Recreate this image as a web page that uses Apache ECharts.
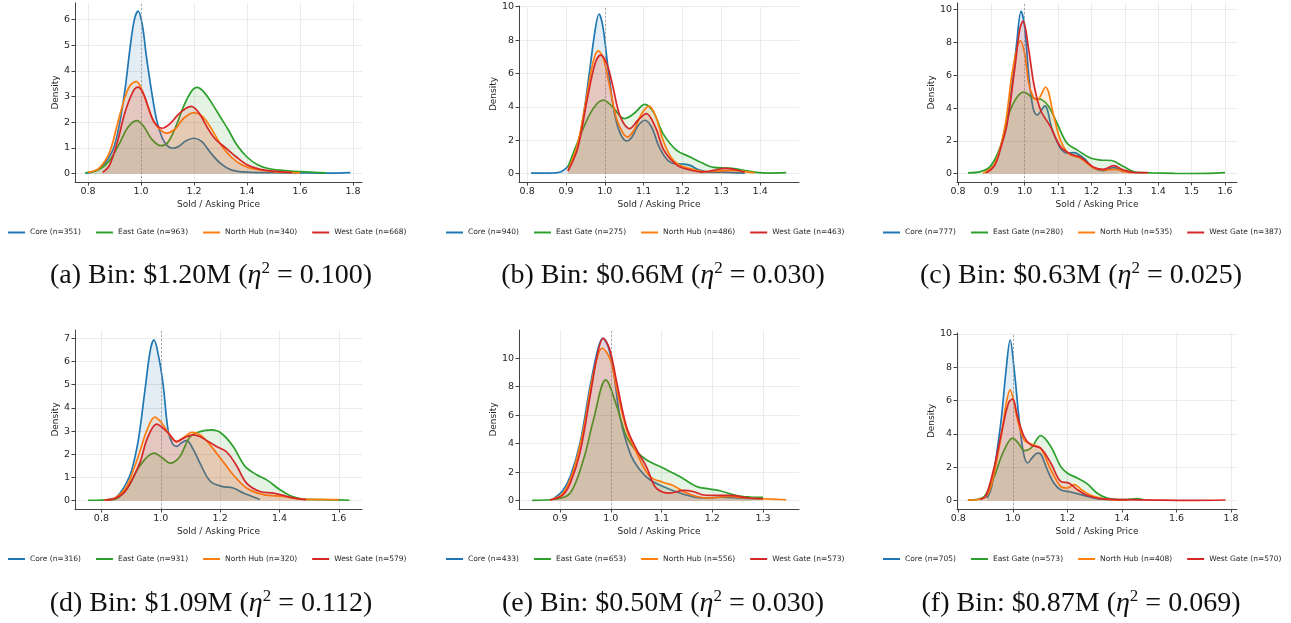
<!DOCTYPE html>
<html>
<head>
<meta charset="utf-8">
<script src="https://cdn.jsdelivr.net/npm/echarts@6/dist/echarts.min.js"></script>
<style>
  html, body { margin: 0; padding: 0; background: #fff; }
  #chart { width: 1291px; height: 623px; }
</style>
</head>
<body>
<div id="chart"></div>
<script>
// region names, colours and sample counts
var regions = ["Core", "East Gate", "North Hub", "West Gate"];
var colors = ["#1f77b4", "#2ca02c", "#ff7f0e", "#d62728"];
var counts = [
    [351, 963, 340, 668],
    [940, 275, 486, 463],
    [777, 280, 535, 387],
    [316, 931, 320, 579],
    [433, 653, 556, 573],
    [705, 573, 408, 570]
];
var letters = ["(a)", "(b)", "(c)", "(d)", "(e)", "(f)"];
var bins = ["$1.20M", "$0.66M", "$0.63M", "$1.09M", "$0.50M", "$0.87M"];
var etas = ["0.100", "0.030", "0.025", "0.112", "0.030", "0.069"];

// tick labels
var xTicks = [
    [0.8, 1.0, 1.2, 1.4, 1.6, 1.8],
    [0.8, 0.9, 1.0, 1.1, 1.2, 1.3, 1.4],
    [0.8, 0.9, 1.0, 1.1, 1.2, 1.3, 1.4, 1.5, 1.6],
    [0.8, 1.0, 1.2, 1.4, 1.6],
    [0.9, 1.0, 1.1, 1.2, 1.3],
    [0.8, 1.0, 1.2, 1.4, 1.6, 1.8]
];
var yTicks = [
    [0, 1, 2, 3, 4, 5, 6],
    [0, 2, 4, 6, 8, 10],
    [0, 2, 4, 6, 8, 10],
    [0, 1, 2, 3, 4, 5, 6, 7],
    [0, 2, 4, 6, 8, 10],
    [0, 2, 4, 6, 8, 10]
];
var xRange = [[0.751, 1.834], [0.779, 1.5], [0.797, 1.636], [0.711, 1.678], [0.819, 1.371], [0.795, 1.822]];
var yRange = [[-0.324, 6.65], [-0.497, 10.04], [-0.51, 10.41], [-0.357, 7.36], [-0.58, 11.98], [-0.5, 10.06]];

// density curves [ratio, density]
// (a)
var coreA = [[0.79,0.02],[0.82,0.08],[0.85,0.25],[0.88,0.65],[0.9,1.1],[0.92,2.0],[0.94,3.3],[0.96,5.0],[0.975,6.0],[0.989,6.33],[1.005,5.8],[1.02,4.6],[1.04,3.2],[1.06,2.05],[1.08,1.4],[1.1,1.08],[1.12,0.99],[1.14,1.05],[1.17,1.28],[1.2,1.38],[1.23,1.25],[1.26,0.85],[1.3,0.4],[1.34,0.15],[1.4,0.06],[1.5,0.04],[1.6,0.03],[1.7,0.02],[1.79,0.04]];
var eastA = [[0.79,0.03],[0.84,0.15],[0.88,0.5],[0.92,1.2],[0.95,1.8],[0.983,2.07],[1.01,1.85],[1.04,1.35],[1.075,1.09],[1.1,1.2],[1.13,1.8],[1.16,2.6],[1.19,3.2],[1.212,3.36],[1.24,3.15],[1.27,2.7],[1.3,2.2],[1.33,1.7],[1.36,1.15],[1.4,0.65],[1.44,0.35],[1.48,0.2],[1.52,0.14],[1.6,0.08],[1.7,0.03]];
var northA = [[0.8,0.05],[0.84,0.2],[0.88,0.8],[0.91,1.9],[0.94,3.0],[0.96,3.45],[0.983,3.59],[1.0,3.35],[1.02,2.8],[1.05,2.0],[1.08,1.65],[1.096,1.58],[1.13,1.75],[1.16,2.15],[1.2,2.38],[1.23,2.25],[1.26,1.85],[1.3,1.15],[1.34,0.65],[1.38,0.35],[1.42,0.2],[1.5,0.08],[1.6,0.03]];
var westA = [[0.855,0.05],[0.88,0.3],[0.91,1.2],[0.94,2.4],[0.97,3.2],[0.989,3.37],[1.01,3.1],[1.03,2.5],[1.05,2.0],[1.08,1.77],[1.11,1.95],[1.14,2.3],[1.17,2.55],[1.19,2.62],[1.22,2.35],[1.25,1.8],[1.28,1.35],[1.32,1.0],[1.36,0.65],[1.4,0.35],[1.45,0.17],[1.5,0.1],[1.57,0.04]];
// (b)
var coreB = [[0.81,0.03],[0.86,0.04],[0.89,0.15],[0.92,1.0],[0.94,2.8],[0.96,6.0],[0.975,8.6],[0.985,9.56],[0.995,8.8],[1.01,6.0],[1.025,3.6],[1.04,2.4],[1.056,1.96],[1.07,2.2],[1.085,2.85],[1.103,3.2],[1.12,2.8],[1.14,1.6],[1.16,0.85],[1.18,0.6],[1.2,0.58],[1.22,0.5],[1.24,0.25],[1.27,0.1],[1.3,0.1],[1.33,0.06],[1.36,0.03]];
var eastB = [[0.905,0.4],[0.93,1.9],[0.96,3.5],[0.98,4.2],[0.996,4.4],[1.02,4.0],[1.05,3.3],[1.075,3.6],[1.103,4.15],[1.125,3.7],[1.15,2.4],[1.185,1.4],[1.22,1.0],[1.25,0.65],[1.28,0.38],[1.32,0.33],[1.355,0.22],[1.39,0.08],[1.42,0.04],[1.467,0.06]];
var northB = [[0.905,0.2],[0.93,1.8],[0.95,4.2],[0.97,6.7],[0.983,7.35],[0.995,7.0],[1.01,5.5],[1.03,3.3],[1.045,2.5],[1.058,2.2],[1.075,2.6],[1.095,3.6],[1.114,4.05],[1.13,3.5],[1.15,2.0],[1.17,1.0],[1.19,0.55],[1.22,0.3],[1.26,0.12],[1.3,0.17],[1.33,0.2],[1.36,0.12],[1.386,0.05]];
var westB = [[0.905,0.15],[0.93,1.5],[0.955,4.5],[0.975,6.6],[0.989,7.1],[1.005,6.6],[1.02,5.3],[1.04,3.4],[1.064,2.7],[1.085,3.2],[1.107,3.6],[1.13,2.8],[1.15,1.5],[1.17,0.85],[1.19,0.45],[1.22,0.22],[1.25,0.1],[1.28,0.2],[1.31,0.32],[1.34,0.22],[1.36,0.08]];
// (c)
var coreC = [[0.88,0.05],[0.91,0.6],[0.935,2.2],[0.955,4.3],[0.975,7.8],[0.989,9.9],[1.0,8.9],[1.012,6.0],[1.025,4.0],[1.037,3.58],[1.06,4.13],[1.082,2.7],[1.107,1.55],[1.13,1.25],[1.147,1.28],[1.177,0.94],[1.205,0.35],[1.236,0.18],[1.266,0.37],[1.296,0.1]];
var eastC = [[0.83,0.05],[0.867,0.12],[0.897,0.45],[0.927,1.65],[0.957,3.9],[0.997,4.97],[1.027,4.6],[1.052,4.5],[1.072,4.1],[1.097,3.07],[1.127,1.85],[1.157,1.45],[1.197,0.95],[1.227,0.83],[1.26,0.8],[1.296,0.43],[1.336,0.08],[1.38,0.05],[1.45,0.02],[1.5,0.01],[1.55,0.02],[1.6,0.06]];
var northC = [[0.875,0.03],[0.91,0.6],[0.94,2.8],[0.965,6.5],[0.987,8.1],[1.0,7.3],[1.012,5.5],[1.025,4.7],[1.037,4.5],[1.062,5.27],[1.087,3.5],[1.107,2.05],[1.132,1.2],[1.167,0.94],[1.207,0.33],[1.246,0.22],[1.27,0.26],[1.3,0.12],[1.32,0.05]];
var westC = [[0.885,0.05],[0.91,0.5],[0.93,1.7],[0.947,3.0],[0.97,6.4],[0.985,8.8],[0.995,9.3],[1.012,7.55],[1.027,5.5],[1.047,3.9],[1.077,2.87],[1.107,1.65],[1.137,1.2],[1.167,1.0],[1.207,0.39],[1.236,0.26],[1.266,0.49],[1.296,0.22],[1.336,0.06],[1.37,0.06]];
// (d)
var coreD = [[0.81,0.03],[0.85,0.15],[0.893,1.0],[0.915,2.0],[0.929,3.0],[0.949,5.0],[0.965,6.5],[0.977,6.93],[0.993,6.2],[1.008,5.0],[1.025,3.0],[1.04,2.45],[1.053,2.34],[1.07,2.5],[1.087,2.6],[1.11,2.2],[1.132,1.62],[1.166,0.85],[1.205,0.62],[1.244,0.55],[1.278,0.33],[1.334,0.05]];
var eastD = [[0.755,0.02],[0.84,0.05],[0.884,0.47],[0.929,1.5],[0.977,2.05],[1.005,1.85],[1.031,1.62],[1.064,1.9],[1.098,2.75],[1.132,2.98],[1.171,3.05],[1.205,2.9],[1.244,2.34],[1.284,1.48],[1.323,1.12],[1.357,0.9],[1.402,0.47],[1.441,0.19],[1.481,0.07],[1.58,0.04],[1.636,0.02]];
var northD = [[0.81,0.03],[0.85,0.15],[0.884,0.6],[0.91,1.4],[0.929,2.1],[0.955,3.1],[0.98,3.6],[1.0,3.4],[1.019,3.05],[1.053,2.55],[1.08,2.75],[1.104,2.95],[1.132,2.85],[1.16,2.5],[1.188,2.05],[1.215,1.6],[1.244,1.12],[1.289,0.55],[1.346,0.26],[1.413,0.19],[1.47,0.07],[1.6,0.05]];
var westD = [[0.81,0.03],[0.85,0.12],[0.884,0.47],[0.929,1.62],[0.955,2.7],[0.986,3.3],[1.01,3.1],[1.031,2.84],[1.053,2.55],[1.08,2.72],[1.109,2.84],[1.132,2.77],[1.16,2.55],[1.188,2.34],[1.222,2.1],[1.256,1.5],[1.289,0.76],[1.334,0.4],[1.38,0.33],[1.424,0.19],[1.47,0.07],[1.49,0.05]];
// (e)
var coreE = [[0.887,0.15],[0.905,0.7],[0.92,1.7],[0.939,4.0],[0.959,8.0],[0.975,10.7],[0.984,11.4],[0.995,10.8],[1.005,9.2],[1.018,5.9],[1.038,3.34],[1.057,2.17],[1.077,1.47],[1.103,1.0],[1.136,0.54],[1.169,0.23],[1.195,0.19],[1.221,0.26],[1.254,0.19],[1.3,0.14]];
var eastE = [[0.845,0.03],[0.893,0.12],[0.92,0.54],[0.946,2.87],[0.966,5.7],[0.99,8.48],[1.012,6.6],[1.031,4.5],[1.051,3.46],[1.07,2.87],[1.103,2.29],[1.136,1.7],[1.169,1.0],[1.195,0.82],[1.215,0.7],[1.248,0.37],[1.274,0.26],[1.3,0.23]];
var northE = [[0.88,0.05],[0.905,0.5],[0.925,2.0],[0.945,4.8],[0.965,8.8],[0.983,10.7],[0.998,10.0],[1.012,7.8],[1.031,5.0],[1.051,3.34],[1.077,1.7],[1.103,1.3],[1.123,1.07],[1.143,0.65],[1.169,0.3],[1.195,0.19],[1.234,0.3],[1.267,0.19],[1.3,0.14],[1.346,0.07]];
var westE = [[0.88,0.05],[0.905,0.4],[0.92,1.24],[0.939,3.34],[0.959,7.3],[0.975,10.5],[0.985,11.4],[0.998,10.6],[1.012,8.25],[1.031,5.2],[1.051,3.57],[1.07,2.4],[1.087,1.0],[1.103,0.6],[1.116,0.54],[1.143,0.72],[1.162,0.65],[1.18,0.42],[1.2,0.37],[1.234,0.37],[1.274,0.19],[1.3,0.14]];
// (f)
var coreF = [[0.905,0.15],[0.92,0.7],[0.932,1.86],[0.957,4.85],[0.975,7.84],[0.99,9.64],[1.005,7.84],[1.023,4.85],[1.039,2.85],[1.054,2.26],[1.072,2.6],[1.09,2.85],[1.102,2.8],[1.126,1.86],[1.15,1.06],[1.175,0.66],[1.211,0.52],[1.26,0.32],[1.308,0.12],[1.369,0.06],[1.418,0.04]];
var eastF = [[0.835,0.03],[0.87,0.08],[0.896,0.26],[0.932,1.46],[0.963,2.85],[0.999,3.75],[1.02,3.45],[1.042,3.0],[1.066,3.15],[1.102,3.9],[1.139,3.25],[1.175,2.06],[1.199,1.66],[1.236,1.36],[1.272,1.02],[1.308,0.46],[1.345,0.16],[1.39,0.06],[1.418,0.06],[1.454,0.12],[1.476,0.06]];
var northF = [[0.835,0.03],[0.87,0.07],[0.9,0.25],[0.92,0.86],[0.957,3.85],[0.975,5.8],[0.99,6.65],[1.003,6.0],[1.017,4.85],[1.041,3.65],[1.066,3.4],[1.102,3.15],[1.139,1.86],[1.175,0.86],[1.199,0.76],[1.224,0.96],[1.26,0.56],[1.296,0.26],[1.357,0.06],[1.418,0.04]];
var westF = [[0.88,0.08],[0.9,0.26],[0.932,2.06],[0.963,4.45],[0.985,5.9],[0.999,6.1],[1.017,5.05],[1.041,3.85],[1.066,3.35],[1.102,3.15],[1.139,2.26],[1.175,1.16],[1.205,1.06],[1.236,0.66],[1.272,0.32],[1.32,0.12],[1.418,0.06],[1.55,0.03],[1.66,0.02],[1.78,0.04]];

var curves = [
    [coreA, eastA, northA, westA],
    [coreB, eastB, northB, westB],
    [coreC, eastC, northC, westC],
    [coreD, eastD, northD, westD],
    [coreE, eastE, northE, westE],
    [coreF, eastF, northF, westF]
];

// layout of the six axes boxes: left, top, width, height, ylabel gap
var boxes = [
    [75, 3, 287, 179, 13],
    [519, 6, 280, 176, 21],
    [957, 3, 280, 179, 21],
    [75, 330, 287, 179, 13],
    [519, 330, 280, 179, 21],
    [957, 333, 280, 176, 21]
];
var legendLeft = [8, 446, 883];
var captionX = [211, 663, 1081];
var rowLegendTop = [228.5, 555];
var rowCaptionY = [276, 604];

var chart = echarts.init(document.getElementById("chart"));
var grids = [], xAxes = [], yAxes = [], series = [], legends = [], graphics = [];
var axisColor = "#444", textColor = "#262626", gridColor = "#ebebeb";

for (var p = 0; p < 6; p++) {
    var b = boxes[p];
    var col = p % 3, row = Math.floor(p / 3);
    grids.push({ left: b[0], top: b[1], width: b[2], height: b[3] });
    xAxes.push({
        type: "value", gridIndex: p,
        min: xRange[p][0], max: xRange[p][1],
        name: "Sold / Asking Price", nameLocation: "middle", nameGap: 18,
        nameTextStyle: { fontSize: 9, color: textColor },
        axisLine: { onZero: false, lineStyle: { color: axisColor, width: 1 } },
        axisTick: { customValues: xTicks[p], length: 3.5, lineStyle: { color: axisColor } },
        axisLabel: { customValues: xTicks[p], fontSize: 9.5, color: textColor, margin: 5,
            formatter: function (v) { return v.toFixed(1); } },
        splitLine: { show: true, lineStyle: { color: gridColor, width: 1 } }
    });
    yAxes.push({
        type: "value", gridIndex: p,
        min: yRange[p][0], max: yRange[p][1],
        name: "Density", nameLocation: "middle", nameGap: b[4],
        nameTextStyle: { fontSize: 9, color: textColor },
        axisLine: { show: true, onZero: false, lineStyle: { color: axisColor, width: 1 } },
        axisTick: { show: true, customValues: yTicks[p], length: 3.5, lineStyle: { color: axisColor } },
        axisLabel: { customValues: yTicks[p], fontSize: 9.5, color: textColor, margin: 5,
            formatter: function (v) { return String(Math.round(v)); } },
        splitLine: { show: true, lineStyle: { color: gridColor, width: 1 } }
    });
    var names = [];
    for (var s = 0; s < 4; s++) {
        var nm = regions[s] + " (n=" + counts[p][s] + ")";
        names.push(nm);
        var ser = {
            type: "line", name: nm, xAxisIndex: p, yAxisIndex: p,
            data: curves[p][s],
            smooth: 0.35,
            showSymbol: false, symbol: "none",
            lineStyle: { color: colors[s], width: 1.7 },
            itemStyle: { color: colors[s] },
            areaStyle: { color: colors[s], opacity: 0.13 },
            z: 2 + s
        };
        if (s === 0) {
            ser.markLine = {
                silent: true, symbol: "none", animation: false,
                label: { show: false },
                lineStyle: { type: [2, 2], color: "#999", width: 0.8 },
                data: [{ xAxis: 1.0 }]
            };
        }
        series.push(ser);
    }
    legends.push({
        data: names, left: legendLeft[col], top: rowLegendTop[row],
        width: 420,
        orient: "horizontal", icon: "rect", itemWidth: 17, itemHeight: 2,
        itemGap: 15, padding: 0, selectedMode: false,
        textStyle: { fontSize: 7.5, color: textColor, fontFamily: "DejaVu Sans" }
    });
    graphics.push({
        type: "text", x: captionX[col], y: rowCaptionY[row],
        style: {
            text: "{t|" + letters[p] + " Bin: " + bins[p] + " (}{i|η}{s|2}{t| = " + etas[p] + ")}",
            align: "center", verticalAlign: "middle",
            rich: {
                t: { fontFamily: "Liberation Serif", fontSize: 28, fill: "#111", lineHeight: 32 },
                i: { fontFamily: "Liberation Serif", fontStyle: "italic", fontSize: 28, fill: "#111", lineHeight: 32 },
                s: { fontFamily: "Liberation Serif", fontSize: 17, fill: "#111", verticalAlign: "top", lineHeight: 18 }
            }
        }
    });
}

chart.setOption({
    animation: false,
    textStyle: { fontFamily: "DejaVu Sans" },
    grid: grids,
    xAxis: xAxes,
    yAxis: yAxes,
    legend: legends,
    series: series,
    graphic: graphics
});
</script>
</body>
</html>
